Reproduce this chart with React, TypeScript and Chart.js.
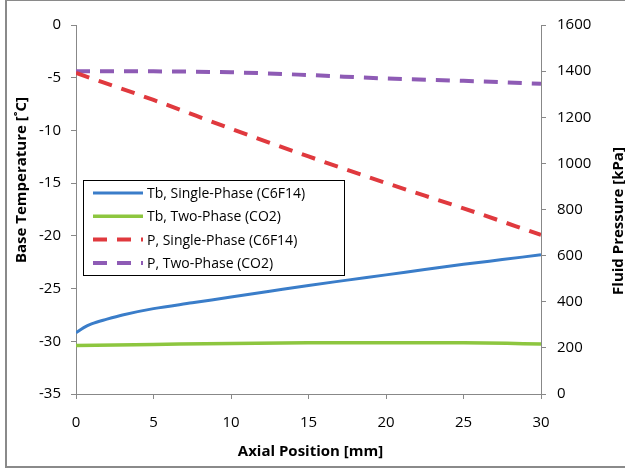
import React, { useEffect, useRef } from "react";
import { Chart, registerables } from "chart.js";

Chart.register(...registerables);

// ---- data ----
const axialTbSingle = [0, 0.5, 1, 2, 3, 5, 7.5, 10, 12.5, 15, 17.5, 20, 22.5, 25, 27.5, 30];
const tbSingle = [-29.2, -28.7, -28.35, -27.9, -27.5, -26.9, -26.35, -25.8, -25.25, -24.7, -24.2, -23.7, -23.2, -22.7, -22.25, -21.8];
const axialTbTwo = [0, 5, 10, 15, 20, 25, 30];
const tbTwo = [-30.4, -30.3, -30.2, -30.15, -30.15, -30.15, -30.25];
const axialP = [0, 5, 10, 15, 20, 25, 30];
const pSingle = [1392, 1275, 1150, 1030, 915, 805, 690];
const pTwo = [1400, 1399, 1395, 1383, 1368, 1358, 1345];

const seriesLabels = [
  "Tb, Single-Phase (C6F14)",
  "Tb, Two-Phase (CO2)",
  "P, Single-Phase (C6F14)",
  "P, Two-Phase (CO2)",
];
const seriesColors = ["#3a7dc9", "#8dc63f", "#e0393e", "#8e5bb5"];

const xTitle = "Axial Position [mm]";
const yTitle = "Base Temperature [˚C]";
const y1Title = "Fluid Pressure [kPa]";

const FONT = "'Open Sans', 'Liberation Sans', sans-serif";
const AXIS_COLOR = "#888888";

const pts = (xs: number[], ys: number[]) => xs.map((x, i) => ({ x, y: ys[i] }));

const overlayPlugin = {
  id: "overlay",
  afterDraw(chart: any) {
    const ctx = chart.ctx as CanvasRenderingContext2D;
    const a = chart.chartArea;
    ctx.save();
    // legend box
    const lx = a.left + 7;
    const ly = a.top + 155;
    const lw = 261;
    const lh = 95;
    ctx.fillStyle = "#ffffff";
    ctx.fillRect(lx, ly, lw, lh);
    ctx.strokeStyle = "#000000";
    ctx.lineWidth = 1;
    ctx.strokeRect(lx + 0.5, ly + 0.5, lw, lh);
    const ds = chart.data.datasets;
    ctx.font = `14px ${FONT}`;
    ctx.textBaseline = "middle";
    ctx.textAlign = "left";
    for (let i = 0; i < ds.length; i++) {
      const yy = ly + 13 + i * 23.3;
      ctx.strokeStyle = ds[i].borderColor;
      ctx.lineWidth = ds[i].borderWidth;
      ctx.setLineDash(ds[i].borderDash || []);
      ctx.beginPath();
      ctx.moveTo(lx + 10, yy);
      ctx.lineTo(lx + 60, yy);
      ctx.stroke();
      ctx.setLineDash([]);
      ctx.fillStyle = "#000000";
      ctx.fillText(ds[i].label, lx + 64, yy + 1);
    }
    // axis titles
    ctx.fillStyle = "#000000";
    ctx.font = `bold 15px ${FONT}`;
    ctx.textAlign = "center";
    ctx.textBaseline = "middle";
    ctx.fillText(xTitle, (a.left + a.right) / 2 + 2, 452);
    ctx.save();
    ctx.translate(22, 180);
    ctx.rotate(-Math.PI / 2);
    ctx.fillText(yTitle, 0, 0);
    ctx.restore();
    ctx.save();
    ctx.translate(619, 221);
    ctx.rotate(-Math.PI / 2);
    ctx.fillText(y1Title, 0, 0);
    ctx.restore();
    ctx.restore();
  },
};

export default function App() {
  const canvasRef = useRef<HTMLCanvasElement | null>(null);

  useEffect(() => {
    if (!canvasRef.current) return;
    const tickFont = { family: FONT, size: 15 };
    const plain = (v: any) => String(v);
    const chart = new Chart(canvasRef.current, {
      type: "line",
      data: {
        datasets: [
          {
            label: seriesLabels[0],
            data: pts(axialTbSingle, tbSingle),
            borderColor: seriesColors[0],
            borderWidth: 3,
            yAxisID: "y",
            pointRadius: 0,
            cubicInterpolationMode: "monotone",
          },
          {
            label: seriesLabels[1],
            data: pts(axialTbTwo, tbTwo),
            borderColor: seriesColors[1],
            borderWidth: 3.5,
            yAxisID: "y",
            pointRadius: 0,
            cubicInterpolationMode: "monotone",
          },
          {
            label: seriesLabels[2],
            data: pts(axialP, pSingle),
            borderColor: seriesColors[2],
            borderWidth: 4,
            borderDash: [14, 10],
            yAxisID: "y1",
            pointRadius: 0,
            cubicInterpolationMode: "monotone",
          },
          {
            label: seriesLabels[3],
            data: pts(axialP, pTwo),
            borderColor: seriesColors[3],
            borderWidth: 4,
            borderDash: [14, 10],
            yAxisID: "y1",
            pointRadius: 0,
            cubicInterpolationMode: "monotone",
          },
        ] as any,
      },
      options: {
        animation: false,
        responsive: false,
        layout: { padding: { top: 25, left: 0, right: 0, bottom: 0 } },
        plugins: { legend: { display: false }, tooltip: { enabled: false } },
        scales: {
          x: {
            type: "linear",
            min: 0,
            max: 30,
            ticks: { stepSize: 5, font: tickFont, color: "#000", padding: 15, callback: plain },
            grid: { drawOnChartArea: false, drawTicks: true, tickLength: 5, color: AXIS_COLOR },
            border: { color: AXIS_COLOR, width: 1 },
            afterFit: (s: any) => { s.height = 76; },
          },
          y: {
            type: "linear",
            position: "left",
            min: -35,
            max: 0,
            ticks: { stepSize: 5, font: tickFont, color: "#000", padding: 10, callback: plain },
            grid: { drawOnChartArea: false, drawTicks: true, tickLength: 5, color: AXIS_COLOR },
            border: { color: AXIS_COLOR, width: 1 },
            afterFit: (s: any) => { s.width = 76; },
          },
          y1: {
            type: "linear",
            position: "right",
            min: 0,
            max: 1600,
            ticks: { stepSize: 200, font: tickFont, color: "#000", padding: 11, callback: plain },
            grid: { drawOnChartArea: false, drawTicks: true, tickLength: 5, color: AXIS_COLOR },
            border: { color: AXIS_COLOR, width: 1 },
            afterFit: (s: any) => { s.width = 84; },
          },
        },
      } as any,
      plugins: [overlayPlugin],
    });
    return () => chart.destroy();
  }, []);

  return (
    <div style={{ position: "fixed", left: 0, top: 0, width: 625, height: 470, background: "#fff", overflow: "hidden" }}>
      <canvas ref={canvasRef} width={625} height={470} style={{ position: "absolute", left: 0, top: 0 }} />
      <div
        style={{
          position: "absolute",
          left: 5,
          top: -1,
          width: 625,
          height: 469,
          boxSizing: "border-box",
          border: "2px solid #8a8a8a",
          pointerEvents: "none",
        }}
      />
    </div>
  );
}
